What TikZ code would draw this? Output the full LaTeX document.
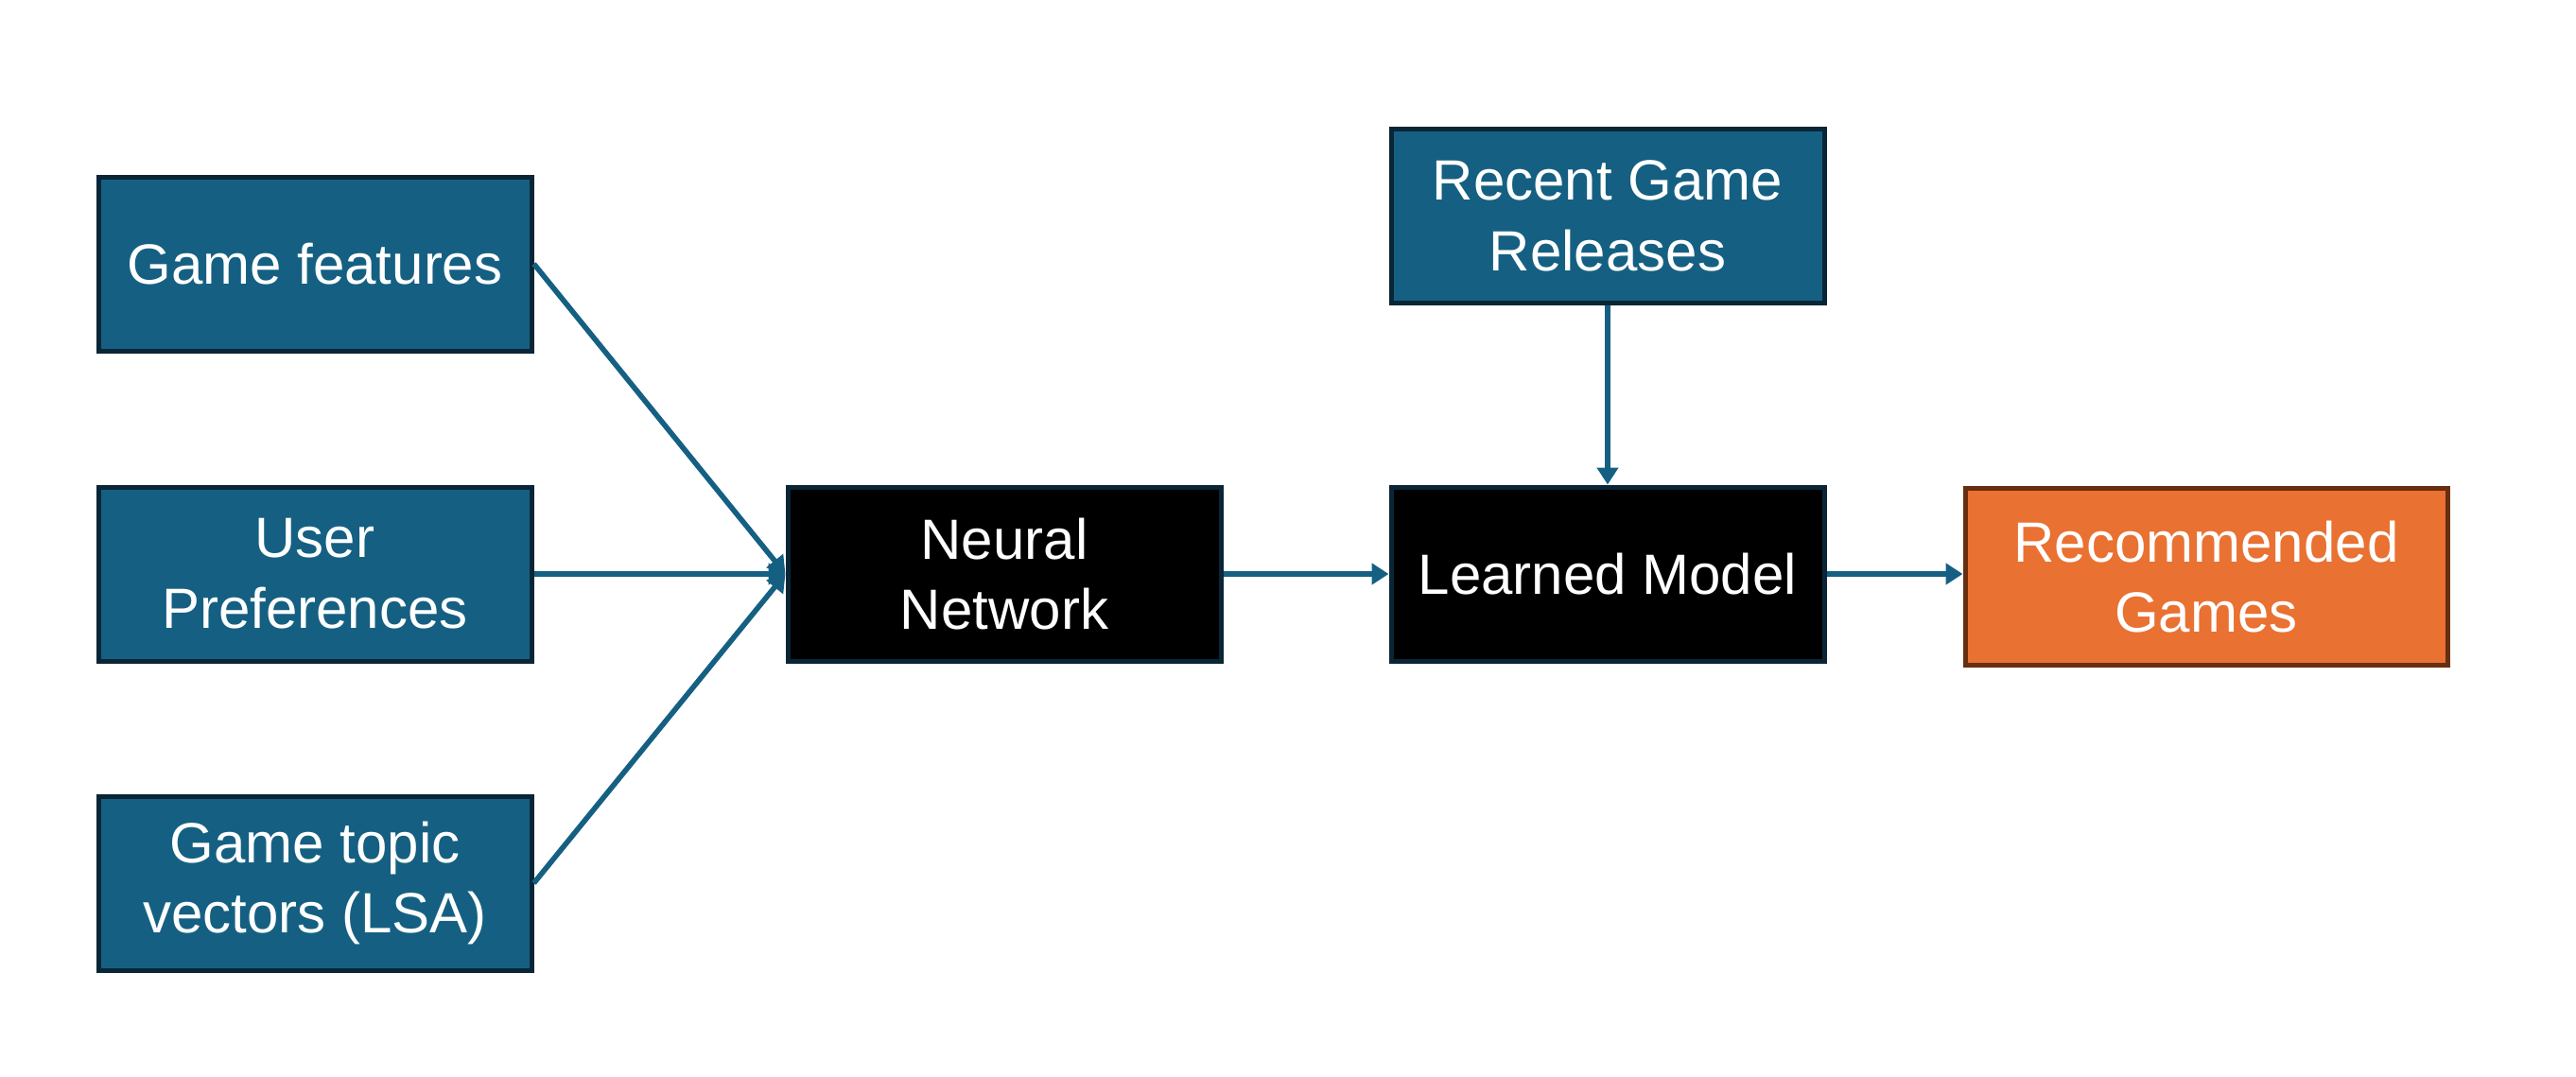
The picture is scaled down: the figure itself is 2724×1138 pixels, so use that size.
\documentclass[tikz,border=0pt]{standalone}
\usepackage{fontspec}
\setmainfont{Liberation Sans}
\usetikzlibrary{arrows.meta}
\definecolor{boxblue}{HTML}{156082}
\definecolor{navyline}{HTML}{0A2536}
\definecolor{orangefill}{HTML}{E97132}
\definecolor{brownline}{HTML}{672E10}
\tikzset{
  blk/.style={draw=navyline, line width=1.25pt, fill=boxblue, text=white, minimum width=114.5pt, minimum height=46pt, align=center, font=\fontsize{15}{18.7}\selectfont, inner sep=0pt},
  blackbox/.style={blk, fill=black},
  outbox/.style={blk, draw=brownline, fill=orangefill, minimum width=127.5pt, minimum height=46.75pt},
  conn/.style={draw=boxblue, line width=1.4pt, -{Triangle[length=4.5pt,width=5.5pt]}}
}
\begin{document}
\begin{tikzpicture}[x=0.25pt,y=-0.25pt]
\useasboundingbox (0,0) rectangle (2724,1138);
\node[blk] (gf) at (333,279) {Game features};
\node[blk] (up) at (333,607) {User\\Preferences};
\node[blk] (gt) at (333,934) {Game topic\\vectors (LSA)};
\node[blackbox] (nn) at (1062,607) {Neural\\Network};
\node[blk] (rg) at (1700,228) {Recent Game\\Releases};
\node[blackbox] (lm) at (1700,607) {Learned Model};
\node[outbox] (rec) at (2333,610) {Recommended\\Games};
\draw[conn] (gf.east) -- (nn.west);
\draw[conn] (up.east) -- (nn.west);
\draw[conn] (gt.east) -- (nn.west);
\draw[conn] (nn.east) -- (lm.west);
\draw[conn] (rg.south) -- (lm.north);
\draw[conn] (lm.east) -- (rec.west |- lm.east);
\end{tikzpicture}
\end{document}
